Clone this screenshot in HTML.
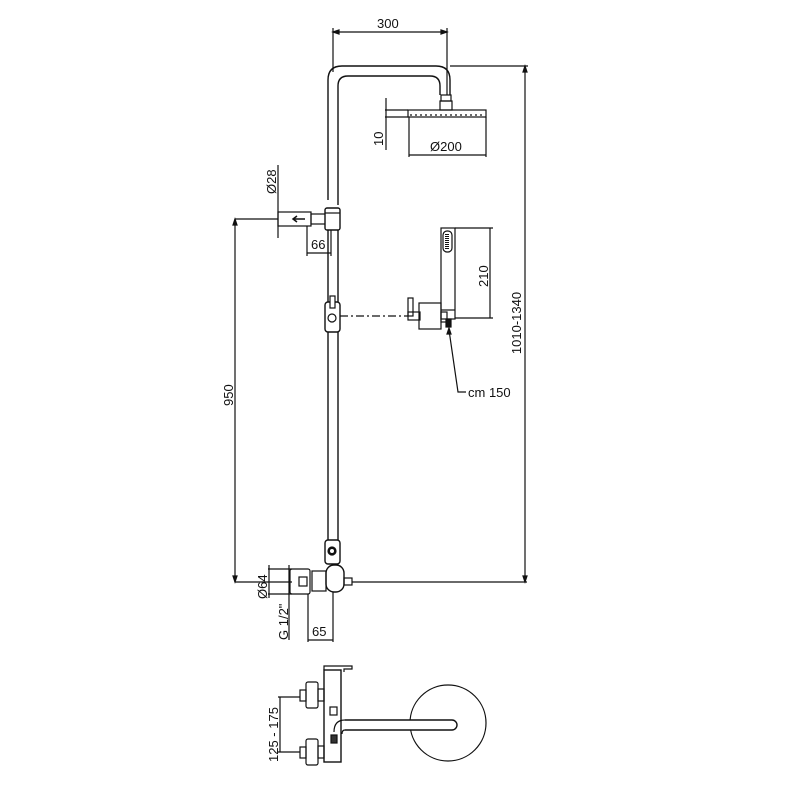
<!DOCTYPE html>
<html><head><meta charset="utf-8"><style>
html,body{margin:0;padding:0;background:#fff}
svg{display:block}
text{font-family:"Liberation Sans",sans-serif;font-size:13px;fill:#111}
</style></head><body>
<svg width="800" height="800" viewBox="0 0 800 800" xmlns="http://www.w3.org/2000/svg" fill="none" stroke="#111" stroke-width="1.2">
<!-- 300 dim -->
<line x1="333" y1="28" x2="333" y2="72"/>
<line x1="447" y1="28" x2="447" y2="95"/>
<line x1="333" y1="32" x2="447" y2="32"/>
<path d="M333 32 l6 -2 v4z M447 32 l-6 -2 v4z" fill="#111"/>
<text x="377" y="28" stroke="none">300</text>
<!-- riser -->
<path d="M328 200 V80 Q328 66 342 66 H436 Q450 66 450 80 V95" stroke-width="1.4"/>
<path d="M338 205 V86 Q338 76 348 76 H430 Q440 76 440 86 V95" stroke-width="1.4"/>
<line x1="450" y1="66" x2="528" y2="66"/>
<!-- overall dim -->
<line x1="525" y1="66" x2="525" y2="582"/>
<path d="M525 66 l-2 6 h4z M525 582 l-2 -6 h4z" fill="#111"/>
<text transform="translate(521,323) rotate(-90)" text-anchor="middle" stroke="none">1010-1340</text>
<!-- head -->
<rect x="441" y="95" width="10" height="6"/>
<rect x="440" y="101" width="12" height="9"/>
<rect x="408" y="110" width="78" height="7"/>
<line x1="410" y1="115" x2="484" y2="115" stroke-dasharray="2,3"/>
<line x1="385" y1="110" x2="408" y2="110"/>
<line x1="385" y1="117" x2="408" y2="117"/>
<line x1="386" y1="98" x2="386" y2="150"/>
<text transform="translate(383,146) rotate(-90)" stroke="none">10</text>
<line x1="409" y1="117" x2="409" y2="157"/>
<line x1="486" y1="117" x2="486" y2="157"/>
<line x1="409" y1="155" x2="486" y2="155"/>
<text x="430" y="151" stroke="none">Ø200</text>
<!-- Ø28 -->
<line x1="278" y1="165" x2="278" y2="238"/>
<text transform="translate(276,194) rotate(-90)" stroke="none">Ø28</text>
<line x1="235" y1="219" x2="278" y2="219"/>
<rect x="278" y="212" width="33" height="14"/>
<rect x="311" y="214" width="15" height="10"/>
<path d="M293 219 h12 M297 216 l-4 3 4 3" stroke-width="1.5"/>
<rect x="325" y="208" width="15" height="22" rx="2" fill="#fff" stroke-width="1.4"/>
<line x1="325" y1="213" x2="340" y2="213"/>
<!-- 66 -->
<line x1="307" y1="226" x2="307" y2="256"/>
<line x1="331" y1="230" x2="331" y2="256"/>
<line x1="307" y1="253" x2="331" y2="253"/>
<text x="311" y="249" stroke="none">66</text>
<!-- riser lower -->
<line x1="328" y1="230" x2="328" y2="560" stroke-width="1.4"/>
<line x1="338" y1="230" x2="338" y2="560" stroke-width="1.4"/>
<!-- slider -->
<rect x="325" y="302" width="15" height="30" rx="3" fill="#fff" stroke-width="1.4"/>
<rect x="330" y="296" width="5" height="12" fill="#fff"/>
<circle cx="332" cy="318" r="4" fill="#fff"/>
<line x1="340" y1="316" x2="408" y2="316" stroke-dasharray="8,3,2,3"/>
<rect x="408" y="298" width="5" height="18"/>
<rect x="408" y="312" width="12" height="8"/>
<rect x="419" y="303" width="22" height="26"/>
<rect x="441" y="312" width="6" height="10"/>
<!-- hand shower -->
<rect x="441" y="228" width="14" height="91"/>
<rect x="443" y="231" width="9" height="21" rx="4"/>
<line x1="447" y1="234" x2="447" y2="249" stroke-width="4" stroke-dasharray="1,1"/>
<line x1="441" y1="310" x2="455" y2="310"/>
<rect x="446" y="319" width="5" height="8" fill="#111"/>
<line x1="455" y1="228" x2="493" y2="228"/>
<line x1="455" y1="318" x2="493" y2="318"/>
<line x1="490" y1="228" x2="490" y2="318"/>
<text transform="translate(488,287) rotate(-90)" stroke="none">210</text>
<path d="M449 330 L458 392 H466"/>
<path d="M449 328 l-2 6 h4z" fill="#111"/>
<text x="468" y="397" stroke="none">cm 150</text>
<!-- 950 -->
<line x1="235" y1="219" x2="235" y2="582"/>
<path d="M235 219 l-2 6 h4z M235 582 l-2 -6 h4z" fill="#111"/>
<text transform="translate(233,406) rotate(-90)" stroke="none">950</text>
<!-- bottom slider -->
<rect x="325" y="540" width="15" height="24" rx="3" fill="#fff" stroke-width="1.4"/>
<circle cx="332" cy="551" r="4" fill="#111"/>
<circle cx="332" cy="551" r="2" fill="#fff" stroke="none"/>
<!-- mixer -->
<line x1="235" y1="582" x2="292" y2="582"/>
<line x1="352" y1="582" x2="527" y2="582"/>
<rect x="326" y="565" width="18" height="27" rx="8" fill="#fff" stroke-width="1.4"/>
<rect x="344" y="578" width="8" height="7"/>
<rect x="312" y="571" width="14" height="20"/>
<rect x="290" y="569" width="20" height="25" rx="2"/>
<rect x="299" y="577" width="8" height="9"/>
<line x1="268" y1="569" x2="292" y2="569"/>
<line x1="268" y1="594" x2="292" y2="594"/>
<line x1="269" y1="565" x2="269" y2="598"/>
<text transform="translate(267,599) rotate(-90)" stroke="none">Ø64</text>
<line x1="289" y1="565" x2="289" y2="640"/>
<text transform="translate(288,640) rotate(-90)" stroke="none">G 1/2"</text>
<line x1="308" y1="594" x2="308" y2="642"/>
<line x1="333" y1="592" x2="333" y2="642"/>
<line x1="308" y1="640" x2="333" y2="640"/>
<text x="312" y="636" stroke="none">65</text>
<!-- bottom view -->
<rect x="324" y="670" width="17" height="92" stroke-width="1.4"/>
<path d="M324 670 V666 H352 V669 H344 V672"/>
<rect x="330" y="707" width="7" height="8"/>
<rect x="331" y="735" width="6" height="8" fill="#333"/>
<rect x="306" y="682" width="12" height="26" rx="2"/>
<rect x="300" y="690" width="6" height="11"/>
<rect x="318" y="689" width="6" height="12"/>
<rect x="306" y="739" width="12" height="26" rx="2"/>
<rect x="300" y="747" width="6" height="11"/>
<rect x="318" y="746" width="6" height="12"/>
<line x1="278" y1="697" x2="300" y2="697"/>
<line x1="278" y1="752" x2="300" y2="752"/>
<line x1="280" y1="697" x2="280" y2="752"/>
<text transform="translate(278,762) rotate(-90)" stroke="none">125 - 175</text>
<circle cx="448" cy="723" r="38"/>
<path d="M345 720 H452 A5 5 0 0 1 452 730 H345" fill="#fff" stroke-width="1.4"/>
<path d="M345 720 Q334 720 334 732 M345 730 Q342 730 342 734"/>
</svg>
</body></html>
